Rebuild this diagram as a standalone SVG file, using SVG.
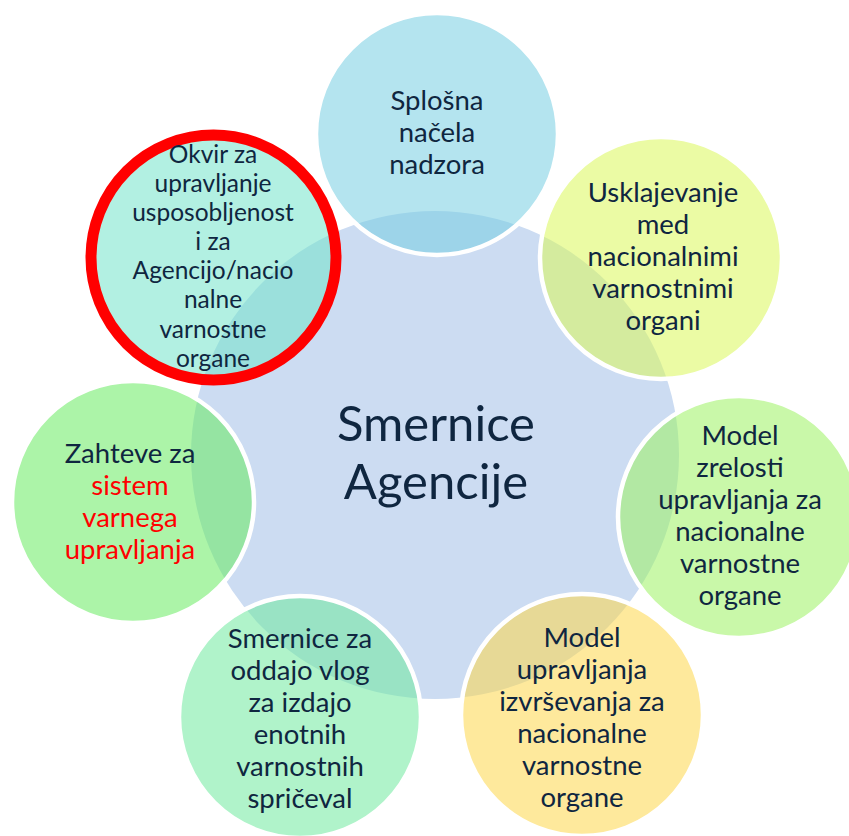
<svg xmlns="http://www.w3.org/2000/svg" width="849" height="836" viewBox="0 0 849 836">
<style>
.sat{stroke:#FFFFFF;stroke-width:4.5;fill-opacity:0.55}
.t{font-family:Lato,"Liberation Sans",sans-serif;font-size:27.5px;fill:#0F2640;text-anchor:middle}
.s{font-size:24.5px}
.c{font-family:Lato,"Liberation Sans",sans-serif;font-size:49px;fill:#0F2640;text-anchor:middle}
.red{fill:#FF0000}
</style>
<rect width="849" height="836" fill="#FFFFFF"/>
<g id="center">
<circle cx="435" cy="455" r="244" fill="#CCDCF2"/>
<text class="c" x="436" y="441">Smernice</text>
<text class="c" x="436" y="499">Agencije</text>
</g>
<g id="splosna">
<circle class="sat" cx="437" cy="134" r="121" fill="rgb(119,206,226)"/>
<text class="t" x="437" y="110">Splošna</text>
<text class="t" x="437" y="142">načela</text>
<text class="t" x="437" y="174">nadzora</text>
</g>
<g id="usklajevanje">
<circle class="sat" cx="661" cy="258" r="121" fill="rgb(219,248,90)"/>
<text class="t" x="663" y="202">Usklajevanje</text>
<text class="t" x="663" y="234">med</text>
<text class="t" x="663" y="266">nacionalnimi</text>
<text class="t" x="663" y="298">varnostnimi</text>
<text class="t" x="663" y="330">organi</text>
</g>
<g id="model-zrelosti">
<circle class="sat" cx="739" cy="517" r="121" fill="rgb(157,242,99)"/>
<text class="t" x="740" y="445">Model</text>
<text class="t" x="740" y="477">zrelosti</text>
<text class="t" x="740" y="509">upravljanja za</text>
<text class="t" x="740" y="541">nacionalne</text>
<text class="t" x="740" y="573">varnostne</text>
<text class="t" x="740" y="605">organe</text>
</g>
<g id="model-upravljanja">
<circle class="sat" cx="582" cy="715" r="121" fill="rgb(253,215,75)"/>
<text class="t" x="582" y="647">Model</text>
<text class="t" x="582" y="679">upravljanja</text>
<text class="t" x="582" y="711">izvrševanja za</text>
<text class="t" x="582" y="743">nacionalne</text>
<text class="t" x="582" y="775">varnostne</text>
<text class="t" x="582" y="807">organe</text>
</g>
<g id="smernice-za">
<circle class="sat" cx="300" cy="717" r="121" fill="rgb(111,233,159)"/>
<text class="t" x="300" y="648">Smernice za</text>
<text class="t" x="300" y="680">oddajo vlog</text>
<text class="t" x="300" y="712">za izdajo</text>
<text class="t" x="300" y="744">enotnih</text>
<text class="t" x="300" y="776">varnostnih</text>
<text class="t" x="300" y="808">spričeval</text>
</g>
<g id="zahteve">
<circle class="sat" cx="133" cy="502" r="121" fill="rgb(104,235,97)"/>
<text class="t" x="130" y="463">Zahteve za</text>
<text class="t red" x="130" y="495">sistem</text>
<text class="t red" x="130" y="527">varnega</text>
<text class="t red" x="130" y="559">upravljanja</text>
</g>
<g id="okvir">
<circle cx="213.5" cy="257.5" r="122.5" fill="rgb(115,228,202)" fill-opacity="0.55" stroke="#FF0000" stroke-width="11"/>
<text class="t s" x="213" y="163">Okvir za</text>
<text class="t s" x="213" y="192">upravljanje</text>
<text class="t s" x="213" y="221">usposobljenost</text>
<text class="t s" x="213" y="250">i za</text>
<text class="t s" x="213" y="279">Agencijo/nacio</text>
<text class="t s" x="213" y="308">nalne</text>
<text class="t s" x="213" y="338">varnostne</text>
<text class="t s" x="213" y="367">organe</text>
</g>
</svg>
